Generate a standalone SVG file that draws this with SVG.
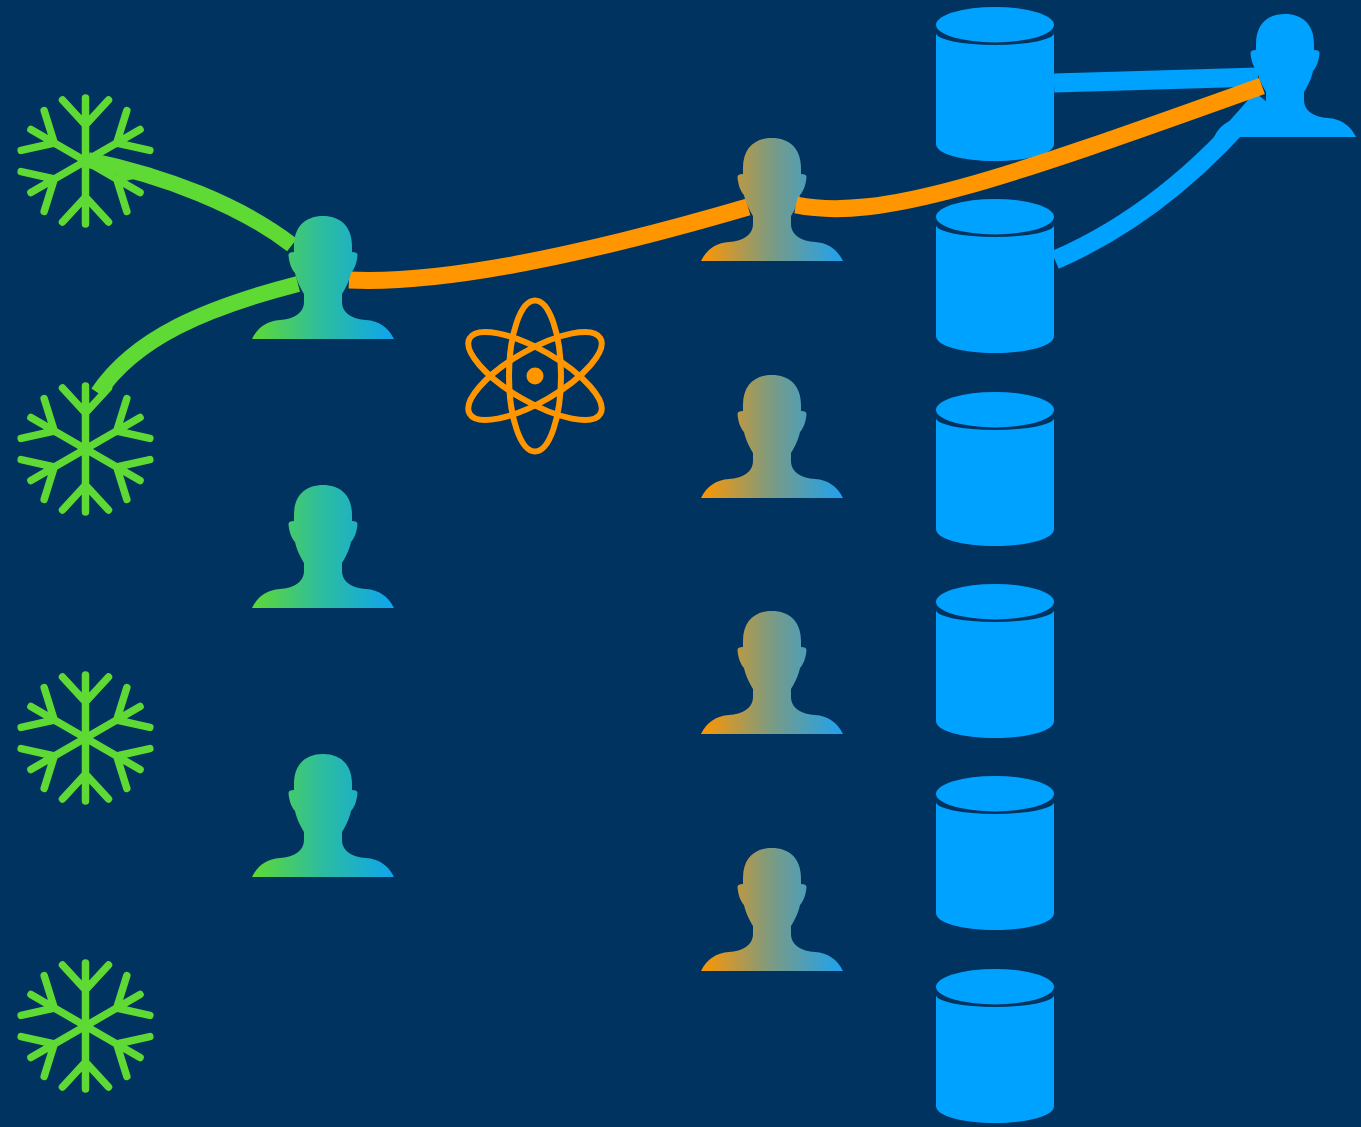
<svg xmlns="http://www.w3.org/2000/svg" width="1361" height="1127" viewBox="0 0 1361 1127">
<style>
.flake{fill:none;stroke:#5fd934;stroke-width:7.500;stroke-linecap:round;stroke-linejoin:round}
.atom{fill:none;stroke:#ff9600;stroke-width:6}
.db{fill:#00a2ff}
.c{fill:none;stroke-linecap:butt}
.g{stroke:#5fd934;stroke-width:16}
.o{stroke:#ff9600;stroke-width:17}
.b{stroke:#00a2ff;stroke-width:19}
</style>
<defs>
<linearGradient id="gb"><stop offset="0" stop-color="#5fd934"/><stop offset="0.5" stop-color="#2cbca0"/><stop offset="1" stop-color="#0ea5ee"/></linearGradient>
<linearGradient id="ob"><stop offset="0" stop-color="#ff9600"/><stop offset="0.5" stop-color="#7a9b84"/><stop offset="1" stop-color="#1ea2f0"/></linearGradient>
<path id="person" d="M-71 123C-65 111-56 105-43 104C-30 103.500-19 97-19 86L-19 78C-24 70-27 62-28 57C-31 54-34 47-34.500 39Q-34.500 36-29 36L-29 30C-29 10-17 0 0 0C17 0 29 10 29 30L29 36Q34.500 36 34.500 39C34 47 31 54 28 57C27 62 24 70 19 78L19 86C19 97 30 103.500 43 104C56 105 65 111 71 123Z"/>
<g id="arm"><path d="M0 0V-63M0-36L-23-61M0-36L23-61"/></g>
<g id="snow" class="flake"><use href="#arm"/><use href="#arm" transform="rotate(60)"/><use href="#arm" transform="rotate(120)"/><use href="#arm" transform="rotate(180)"/><use href="#arm" transform="rotate(240)"/><use href="#arm" transform="rotate(300)"/></g>
<g id="cyl" class="db"><ellipse cx="59" cy="17.700" rx="59" ry="17.700"/><path d="M0 26A59 12 0 0 0 118 26V137C118 147 92 154 59 154C26 154 0 147 0 137Z"/></g>
</defs>
<rect width="1361" height="1127" fill="#00335f"/>
<g id="connectors">
<path class="c g" d="M88 160C165 176 240 205 292 245"/>
<path class="c g" d="M298 284C205 308 135 338 98 393"/>
<path class="c o" d="M349 280C430 284 560 262 748 207"/>
<path class="c b" d="M1054 83L1258 77"/>
<path class="c b" d="M1055 260C1120 232 1190 185 1262 98"/>
</g>
<g id="snow1"><use href="#snow" x="85.500" y="161"/></g>
<g id="snow2"><use href="#snow" x="85.500" y="449"/></g>
<g id="snow3"><use href="#snow" x="85.500" y="738"/></g>
<g id="snow4"><use href="#snow" x="85.500" y="1026"/></g>
<g id="person-a1"><use href="#person" x="323" y="216" fill="url(#gb)"/></g>
<g id="person-a2"><use href="#person" x="323" y="485" fill="url(#gb)"/></g>
<g id="person-a3"><use href="#person" x="323" y="754" fill="url(#gb)"/></g>
<g id="person-b1"><use href="#person" x="772" y="138" fill="url(#ob)"/></g>
<g id="person-b2"><use href="#person" x="772" y="375" fill="url(#ob)"/></g>
<g id="person-b3"><use href="#person" x="772" y="611" fill="url(#ob)"/></g>
<g id="person-b4"><use href="#person" x="772" y="848" fill="url(#ob)"/></g>
<g id="atom" class="atom"><ellipse cx="535" cy="376" rx="26" ry="75.500"/><ellipse cx="535" cy="376" rx="26" ry="75.500" transform="rotate(60 535 376)"/><ellipse cx="535" cy="376" rx="26" ry="75.500" transform="rotate(-60 535 376)"/><circle cx="535" cy="376" r="8.500" fill="#ff9600" stroke="none"/></g>
<g id="db1"><use href="#cyl" x="936" y="7"/></g>
<g id="db2"><use href="#cyl" x="936" y="199"/></g>
<g id="db3"><use href="#cyl" x="936" y="392"/></g>
<g id="db4"><use href="#cyl" x="936" y="584"/></g>
<g id="db5"><use href="#cyl" x="936" y="776"/></g>
<g id="db6"><use href="#cyl" x="936" y="969"/></g>
<g id="person-c"><use href="#person" x="1285" y="14" fill="#00a2ff"/></g>
<g id="connector-top"><path class="c o" d="M796 205C880 222 1000 180 1262 86"/></g>
</svg>
